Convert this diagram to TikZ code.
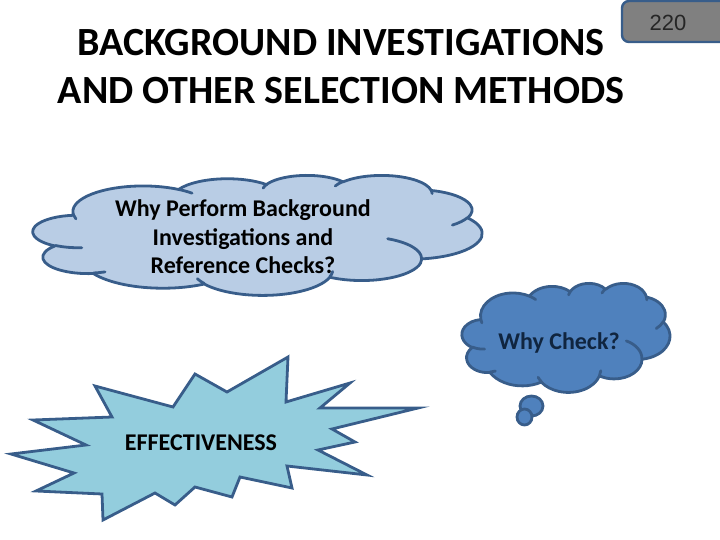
\documentclass[tikz,border=0pt]{standalone}
\usepackage{fontspec}
\setmainfont{Carlito}
\newfontfamily\numfont{Liberation Sans}
\definecolor{edgeblue}{HTML}{385D8A}
\definecolor{paleblue}{HTML}{B9CDE5}
\definecolor{midblue}{HTML}{4F81BD}
\definecolor{burstblue}{HTML}{93CDDD}
\definecolor{darknavy}{HTML}{10253F}
% one arc of the cloud outline: x radius, y radius, start angle, sweep
\newcommand\cloudarc[4]{arc[x radius=#1, y radius=#2,
  start angle={atan2(#1*sin(#3),#2*cos(#3))},
  delta angle={mod(atan2(#1*sin(#3+#4),#2*cos(#3+#4))-atan2(#1*sin(#3),#2*cos(#3))+720,360)}]}
% cloud in a 4320 x 4320 box
\newcommand\drawcloud[1]{%
  \filldraw[fill=#1, draw=edgeblue, line join=round] (390,1437)
    \cloudarc{675.3}{919.0}{-190.4875}{123.7805}
    \cloudarc{533.3}{726.7}{-144.1024}{89.9452}
    \cloudarc{436.5}{594.5}{-145.8079}{99.7230}
    \cloudarc{485.7}{659.5}{-130.9861}{117.2417}
    \cloudarc{533.3}{727.3}{-78.7089}{109.0269}
    \cloudarc{677.5}{922.0}{-46.2673}{130.2690}
    \cloudarc{578.5}{786.7}{0.6250}{114.0333}
    \cloudarc{675.2}{921.5}{22.4516}{115.1726}
    \cloudarc{772.0}{1054.3}{66.2426}{75.7110}
    \cloudarc{436.0}{591.8}{-274.9421}{146.7356}
    \cloudarc{434.5}{594.5}{-246.8285}{152.5189} -- cycle;
  \draw[edgeblue, line cap=round]
    (469.3,2617.7) \cloudarc{434.5}{594.5}{86.7420}{26.4295}
    (692.8,3489.9) \cloudarc{436.0}{591.8}{73.6105}{11.4475}
    (1647.8,3909.0) \cloudarc{675.2}{921.5}{137.6242}{14.0811}
    (2882.7,3475.1) \cloudarc{675.2}{921.5}{6.4533}{15.9984}
    (3412.9,2295.4) \cloudarc{578.5}{786.7}{-70.2924}{70.9174}
    (4179.8,1535.4) \cloudarc{533.3}{727.3}{30.3180}{27.7515}
    (3832.4,542.6) \cloudarc{485.7}{659.5}{-13.7443}{14.8589}
    (2907.8,395.2) \cloudarc{485.7}{659.5}{-149.1815}{18.1954}
    (2214.1,472.0) \cloudarc{436.5}{594.5}{-163.4943}{17.6864}
    (1400.0,519.2) \cloudarc{675.3}{919.0}{-66.7070}{12.3194}
    (412.7,1578.9) \cloudarc{675.3}{919.0}{157.6544}{11.8582};
}
\begin{document}
\begin{tikzpicture}[x=1pt, y=-1pt, line width=2.8pt,
  title/.style={font=\bfseries\fontsize{40}{48}\selectfont, align=center, inner sep=0pt},
  cloudtext/.style={font=\bfseries\fontsize{24}{28.5}\selectfont, align=center, inner sep=0pt}]
  \useasboundingbox (0,0) rectangle (720,540);

  % title and page number
  \node[title, anchor=north] (title) at (341,28) {BACKGROUND INVESTIGATIONS\\AND OTHER SELECTION METHODS};
  \draw[line width=2.4pt, draw=edgeblue, fill=gray, rounded corners=7pt] (622,1) rectangle (730,42);
  \node[font=\numfont\fontsize{22}{26}\selectfont, text=black!85] (pagenum) at (668,22.5) {220};

  % question cloud
  \begin{scope}[shift={(33,175)}, x=0.10394pt, y=-0.027778pt]
    \drawcloud{paleblue}
  \end{scope}
  \node[cloudtext] (whytext) at (243,237) {Why Perform Background\\Investigations and\\Reference Checks?};

  % thought bubble with its tail
  \filldraw[fill=midblue, draw=edgeblue] (531.5,406) ellipse [x radius=11.5, y radius=10];
  \filldraw[fill=midblue, draw=edgeblue] (524.5,417) ellipse [x radius=7.5, y radius=8];
  \begin{scope}[shift={(462,283)}, x=0.048148pt, y=-0.025231pt]
    \drawcloud{midblue}
  \end{scope}
  \node[cloudtext, text=darknavy] (checktext) at (559,343) {Why Check?};

  % explosion
  \filldraw[fill=burstblue, draw=edgeblue, line join=miter]
    (95,386) -- (112,417) -- (33,420) -- (86,445) -- (11,454) -- (74,473)
    -- (36,491) -- (102,494) -- (103,520) -- (155,493) -- (175,505) -- (195,487)
    -- (232,497) -- (240,477) -- (292,488) -- (287,466) -- (367,475) -- (318,450)
    -- (355,442) -- (332,429) -- (418,408) -- (320,408) -- (350,383) -- (286,402)
    -- (288,357) -- (227,392) -- (195,374) -- (173,407) -- cycle;
  \node[cloudtext] (efftext) at (201,443) {EFFECTIVENESS};
\end{tikzpicture}
\end{document}
